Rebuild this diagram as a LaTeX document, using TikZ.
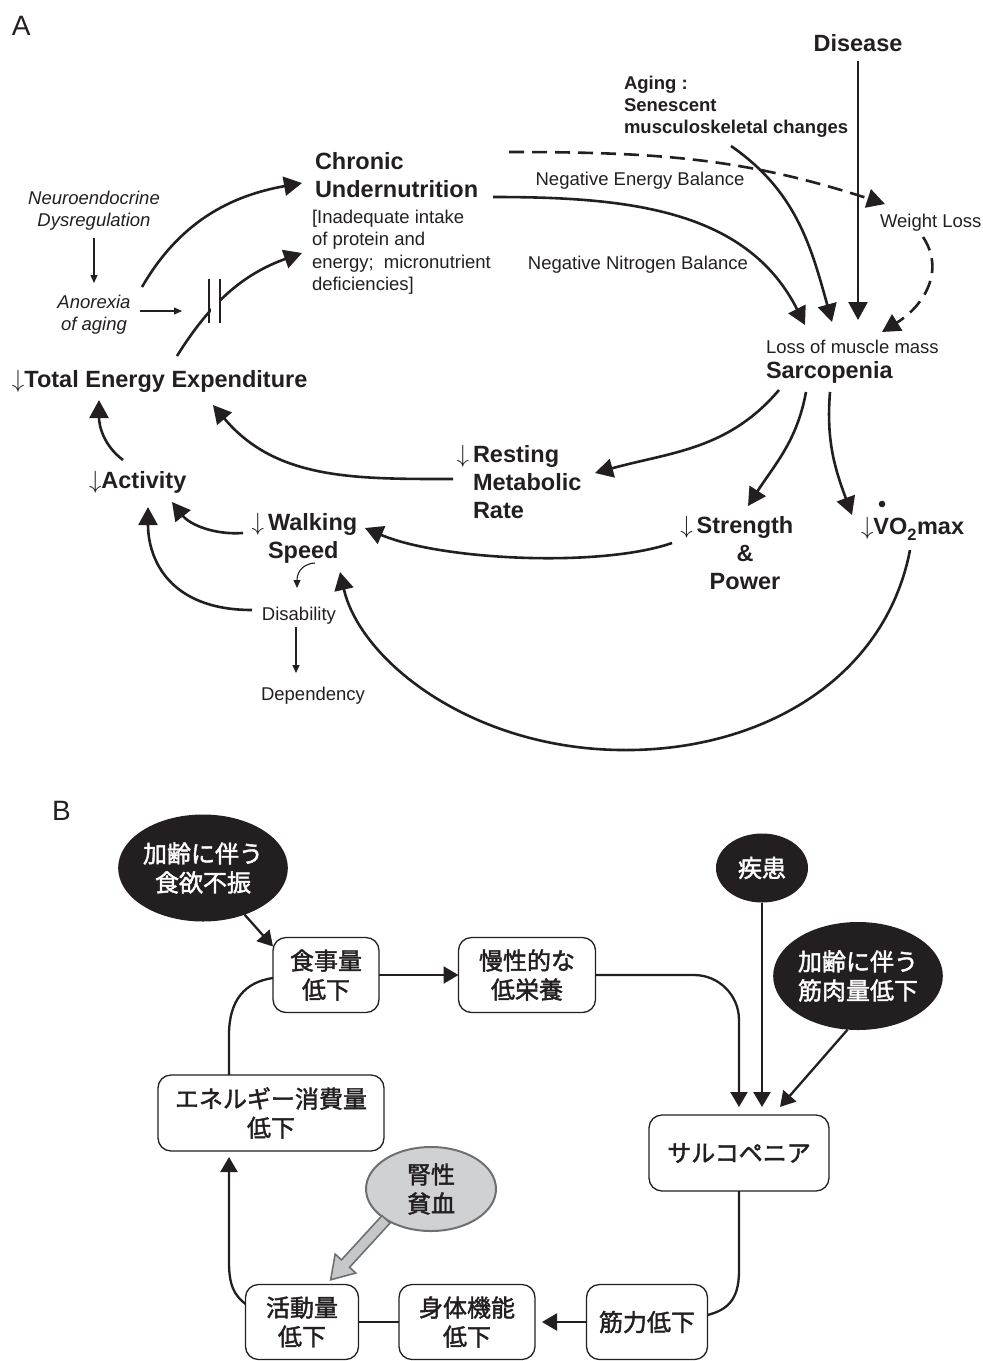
\documentclass[tikz,border=0pt]{standalone}
\usepackage{fontspec}
\setmainfont{Liberation Sans}
\newfontfamily\jpfont[FakeBold=1.8]{Noto Sans CJK JP}
\usetikzlibrary{arrows.meta,shapes.geometric}
\definecolor{ink}{RGB}{35,31,32}
\definecolor{pale}{RGB}{208,209,211}
\definecolor{rim}{RGB}{110,111,113}

\tikzset{
  big/.style={font=\fontsize{23.5}{28}\selectfont\bfseries},
  mid/.style={font=\fontsize{18.5}{22}\selectfont\bfseries},
  txt/.style={font=\fontsize{18.5}{22.5}\selectfont},
  ital/.style={font=\fontsize{18.5}{22}\selectfont\itshape},
  arr/.style={line width=2.6pt, -{Triangle[length=18pt,width=19pt]}},
  thinarr/.style={line width=1.1pt, -{Triangle[length=8pt,width=7pt]}},
  dsh/.style={dash pattern=on 15pt off 8pt},
  jbox/.style={draw=ink, line width=1.3pt, rounded corners=13pt, fill=white,
    minimum height=75pt, align=center, font=\jpfont\fontsize{24}{29}\selectfont},
  jblack/.style={ellipse, fill=ink, text=white, align=center,
    font=\jpfont\fontsize{24}{29}\selectfont},
  jgray/.style={ellipse, fill=pale, draw=rim, line width=2pt, align=center,
    font=\jpfont\fontsize{24}{29}\selectfont},
  barr/.style={line width=2.3pt, -{Triangle[length=15pt,width=17pt]}},
  bline/.style={line width=2.3pt},
}

\begin{document}
\begin{tikzpicture}[x=1pt, y=-1pt, color=ink,
    every node/.style={inner sep=0pt, outer sep=0pt}]
  \useasboundingbox (0,0) rectangle (983,1361);

  % panel A
  \node[font=\fontsize{28}{30}\selectfont, anchor=base west] (labA) at (12,35) {A};
  \node[big, anchor=base] (dis) at (858,51) {Disease};
  \node[mid, anchor=base west, align=left] (age) at (624,133) {Aging :\\Senescent\\musculoskeletal changes};
  \node[big, anchor=base west, align=left] (chr) at (315,197) {Chronic\\Undernutrition};
  \node[txt, anchor=base west, align=left] (inad) at (312,290.5) {[Inadequate intake\\of protein and\\energy;\ \ micronutrient\\deficiencies]};
  \node[txt, anchor=base] (neb) at (640,185) {Negative Energy Balance};
  \node[txt, anchor=base] (nnb) at (638,269) {Negative Nitrogen Balance};
  \node[txt, anchor=base west] (wl) at (880,227) {Weight Loss};
  \node[txt, anchor=base west] (lmm) at (766,353) {Loss of muscle mass};
  \node[big, anchor=base west] (sar) at (766,378) {Sarcopenia};
  \node[ital, anchor=base, align=center] (neu) at (94,226) {Neuroendocrine\\Dysregulation};
  \node[ital, anchor=base, align=center] (ano) at (94,330) {Anorexia\\of aging};
  \node[big, anchor=base west] (tee) at (12,387) {$\downarrow$Total Energy Expenditure};
  \node[big, anchor=base west] (act) at (89,488) {$\downarrow$Activity};
  \node[big, anchor=base west, align=left] (rmr) at (473,518) {\llap{$\downarrow$\,}Resting\\Metabolic\\Rate};
  \node[big, anchor=base west, align=left] (ws) at (268,558) {\llap{$\downarrow$\,}Walking\\Speed};
  \node[big, anchor=base, align=center] (sp) at (745,589) {\llap{$\downarrow$\,}Strength\\\&\\Power};
  \node[big, anchor=base west] (vo) at (861,534) {$\downarrow$VO\raisebox{-0.25ex}{\textsubscript{2}}max};
  \fill (882,504) circle (3.3pt);
  \node[txt, anchor=base] (disab) at (299,620) {Disability};
  \node[txt, anchor=base] (dep) at (313,700) {Dependency};

  \draw[arr] ([shift={(48,-43)}]ano.base) .. controls (179,223) and (229,196) .. ([shift={(-13,-14)}]chr.base west);
  \draw[arr] ([shift={(165,-31)}]tee.base west) .. controls (210,303) and (243,274) .. ([shift={(-10,-37.5)}]inad.base west);
  \fill[white] (210.5,278) rectangle (218.5,324);
  \draw[line width=2.6pt] (209,279) -- (209,323) (220,279) -- (220,323);
  \draw[thinarr] ([shift={(46,-19)}]ano.base) -- ++(42,0);
  \draw[thinarr] ([shift={(0,12)}]neu.base) -- ([shift={(0,-47)}]ano.base);
  \draw[arr] ([shift={(178,0)}]chr.base west) .. controls (624,197) and (746,208) .. ([shift={(39,-53)}]sar.base west);
  \draw[arr, dsh] ([shift={(194,-45)}]chr.base west) .. controls (657,152) and (744,158) .. ([shift={(5,-23)}]wl.base west);
  \draw[arr] ([shift={(107,13)}]age.base west) .. controls (796,191) and (811,246) .. ([shift={(66,-56)}]sar.base west);
  \draw[arr] ([shift={(0,10)}]dis.base) -- ([shift={(92,-58)}]sar.base west);
  \draw[arr, dsh] ([shift={(43,10)}]wl.base west) .. controls (945,270) and (925,305) .. ([shift={(116,-46)}]sar.base west);
  \draw[arr] ([shift={(13,12)}]sar.base west) .. controls (728,450) and (671,452) .. ([shift={(122,-45)}]rmr.base west);
  \draw[arr] ([shift={(40,14)}]sar.base west) .. controls (797,441) and (775,464) .. ([shift={(3,-83)}]sp.base);
  \draw[arr] ([shift={(64,14)}]sar.base west) .. controls (826,441) and (835,469) .. ([shift={(-9,-19)}]vo.base west);
  \draw[arr] ([shift={(-20,-39)}]rmr.base west) .. controls (355,479) and (276,480) .. ([shift={(201,18)}]tee.base west);
  \draw[arr] ([shift={(34,-28)}]act.base west) .. controls (103,445) and (99,425) .. ([shift={(87,13)}]tee.base west);
  \draw[arr] ([shift={(-25,-25)}]ws.base west) .. controls (215,535) and (190,525) .. ([shift={(83,14)}]act.base west);
  \draw[arr] ([shift={(-73,-46)}]sp.base) .. controls (600,568) and (440,560) .. ([shift={(97,-30)}]ws.base west);
  \draw[arr] ([shift={(49,16)}]vo.base west) .. controls (885,680) and (760,752) .. (620,750)
    .. controls (470,748) and (360,660) .. ([shift={(72,14)}]ws.base west);
  \draw[arr] ([shift={(-47,-10)}]disab.base) .. controls (170,610) and (148,560) .. ([shift={(59,19)}]act.base west);
  \draw[thinarr] ([shift={(47,5)}]ws.base west) .. controls (300,564) and (297,575) .. ([shift={(-2,-32)}]disab.base);
  \draw[thinarr] ([shift={(-3,7)}]disab.base) -- ([shift={(-17,-27)}]dep.base);

  % panel B
  \node[font=\fontsize{28}{30}\selectfont, anchor=base west] (labB) at (52,820) {B};
  \node[jblack, minimum width=167pt, minimum height=107pt] (bano) at (203,868) {加齢に伴う\\食欲不振};
  \node[jblack, minimum width=92pt, minimum height=69pt] (bdis) at (762,868) {疾患};
  \node[jblack, minimum width=167pt, minimum height=108pt] (bage) at (858,976) {加齢に伴う\\筋肉量低下};
  \node[jbox, minimum width=106pt] (food) at (326,975) {食事量\\低下};
  \node[jbox, minimum width=137pt] (bchr) at (527,975) {慢性的な\\低栄養};
  \node[jbox, minimum width=226pt, minimum height=76pt] (btee) at (271,1113) {エネルギー消費量\\低下};
  \node[jbox, minimum width=180pt, minimum height=76pt] (bsar) at (739,1153) {サルコペニア};
  \node[jbox, minimum width=113pt] (bact) at (302,1322) {活動量\\低下};
  \node[jbox, minimum width=136pt] (bphy) at (467,1322) {身体機能\\低下};
  \node[jbox, minimum width=121pt] (bstr) at (647,1322) {筋力低下};
  \node[jgray, minimum width=130pt, minimum height=84pt] (bkid) at (431,1189) {腎性\\貧血};

  \draw[barr] (bano) -- ([yshift=-9pt]food.north west);
  \draw[barr] (food) -- (bchr);
  \draw[barr, rounded corners=45pt, shorten >=8pt] (bchr.east) -| (bsar.north);
  \draw[barr, shorten >=8pt] (bdis) -- (bdis |- bsar.north);
  \draw[barr] (bage.259) -- ([shift={(41,-8)}]bsar.north);
  \draw[bline] (bsar.south) -- ([yshift=-80pt]bsar.south) .. controls (739,1300) and (727,1310) .. ([yshift=7pt]bstr.east);
  \draw[barr, shorten >=7pt] (bstr) -- (bphy);
  \draw[bline] (bphy) -- (bact);
  \draw[barr] ([yshift=18pt]bact.west) .. controls (234,1295) and (229,1285) .. (229,1262) -- ([shift={(-42,6)}]btee.south);
  \draw[bline] ([xshift=-42pt]btee.north) -- (229,1035) .. controls (229,1000) and (245,982) .. ([yshift=-3pt]food.west);
  \begin{scope}[shift={(bkid.214.6)}, rotate=227.5]
    \filldraw[fill=pale!95!black, draw=rim, line width=1.6pt, line join=miter]
      (0,5.5) -- (60,5.5) -- (60,14) -- (82,0) -- (60,-14) -- (60,-5.5) -- (0,-5.5) -- cycle;
  \end{scope}
\end{tikzpicture}
\end{document}
